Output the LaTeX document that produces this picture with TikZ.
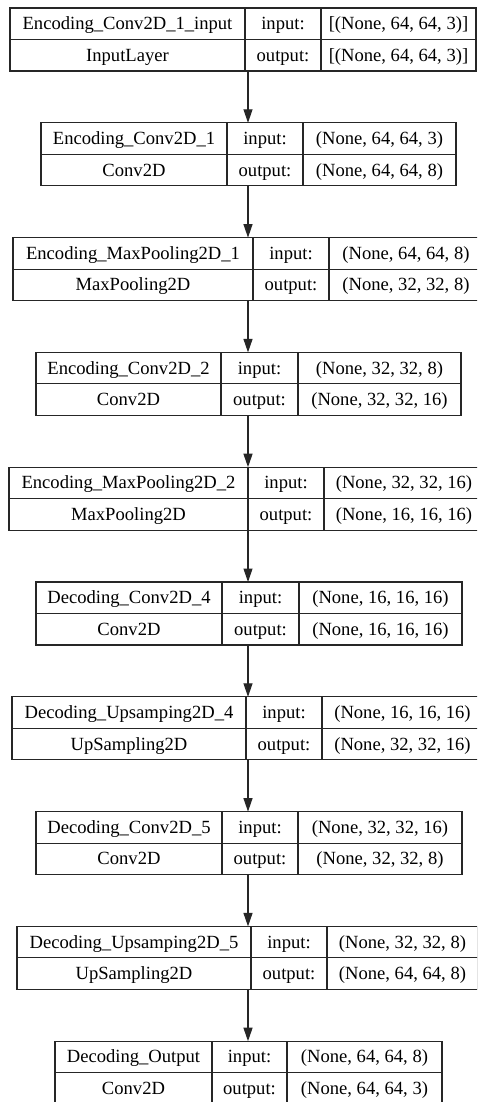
\documentclass[tikz,border=0pt]{standalone}
\usepackage{fontspec}
\setmainfont{Liberation Serif}
\usetikzlibrary{arrows.meta}

\colorlet{ink}{black!85}
\tikzset{
  frame/.style={draw=ink, line width=1.15pt, inner sep=0pt, outer sep=0pt, minimum height=63pt},
  rule/.style={draw=ink, line width=1.15pt},
  cell/.style={inner sep=0pt, outer sep=0pt, text height=12pt, text depth=0pt,
    font=\fontsize{18.6pt}{22pt}\selectfont},
  link/.style={draw=ink, line width=1.15pt, -{Triangle[length=13.5pt,width=9pt]}},
}

% One layer record: name, left, right, top, first divider, second divider,
% layer name, layer class, input shape; the output shape follows as a 10th group.
\newcommand\nnlayer[9]{%
  \pgfmathsetmacro\lyW{#3-#2}%
  \pgfmathsetmacro\lyX{(#2+#3)/2}%
  \pgfmathsetmacro\lyY{#4+31.5}%
  \pgfmathsetmacro\lyB{#4+63}%
  \pgfmathsetmacro\lyR{#4+15.75}%
  \pgfmathsetmacro\lyS{#4+47.25}%
  \pgfmathsetmacro\lyA{(#2+#5)/2}%
  \pgfmathsetmacro\lyM{(#5+#6)/2}%
  \pgfmathsetmacro\lyC{(#6+#3)/2}%
  \node[frame, minimum width=\lyW pt] (#1) at (\lyX,\lyY) {};
  \draw[rule] (#1.west) -- (#1.east);
  \draw[rule] (#5,#4) -- (#5,\lyB);
  \draw[rule] (#6,#4) -- (#6,\lyB);
  \node[cell] (#1-name) at (\lyA,\lyR) {#7};
  \node[cell] (#1-class) at (\lyA,\lyS) {#8};
  \node[cell] (#1-inlbl) at (\lyM,\lyR) {input:};
  \node[cell] (#1-outlbl) at (\lyM,\lyS) {output:};
  \node[cell] (#1-in) at (\lyC,\lyR) {#9};
  \def\lyName{#1}%
  \nnlayerout}
\newcommand\nnlayerout[1]{\node[cell] (\lyName-out) at (\lyC,\lyS) {#1};}

\begin{document}
\begin{tikzpicture}[x=1pt, y=-1pt]
  \useasboundingbox (0,0) rectangle (477,1102);
  \clip (0,0) rectangle (477,1102);
  \fill[white] (0,0) rectangle (477,1102);

  \nnlayer{L1}{10}{476}{8}{245}{321}{Encoding\_Conv2D\_1\_input}{InputLayer}{[(None, 64, 64, 3)]}{[(None, 64, 64, 3)]}
  \nnlayer{L2}{41}{456}{122.8}{227}{303}{Encoding\_Conv2D\_1}{Conv2D}{(None, 64, 64, 3)}{(None, 64, 64, 8)}
  \nnlayer{L3}{13}{483}{237.6}{253}{329}{Encoding\_MaxPooling2D\_1}{MaxPooling2D}{(None, 64, 64, 8)}{(None, 32, 32, 8)}
  \nnlayer{L4}{36}{461}{352.4}{221}{298}{Encoding\_Conv2D\_2}{Conv2D}{(None, 32, 32, 8)}{(None, 32, 32, 16)}
  \nnlayer{L5}{9}{484}{467.2}{248}{324}{Encoding\_MaxPooling2D\_2}{MaxPooling2D}{(None, 32, 32, 16)}{(None, 16, 16, 16)}
  \nnlayer{L6}{36}{462}{582}{222}{299}{Decoding\_Conv2D\_4}{Conv2D}{(None, 16, 16, 16)}{(None, 16, 16, 16)}
  \nnlayer{L7}{12}{483}{696.8}{246}{322}{Decoding\_Upsamping2D\_4}{UpSampling2D}{(None, 16, 16, 16)}{(None, 32, 32, 16)}
  \nnlayer{L8}{36}{462}{811.6}{222}{298}{Decoding\_Conv2D\_5}{Conv2D}{(None, 32, 32, 16)}{(None, 32, 32, 8)}
  \nnlayer{L9}{17}{478}{926.4}{251}{327}{Decoding\_Upsamping2D\_5}{UpSampling2D}{(None, 32, 32, 8)}{(None, 64, 64, 8)}
  \nnlayer{L10}{55}{442}{1041.2}{212}{287}{Decoding\_Output}{Conv2D}{(None, 64, 64, 8)}{(None, 64, 64, 3)}

  % vertical data-flow axis
  \coordinate (flow) at (248,0);
  \foreach \a/\b in {L1/L2, L2/L3, L3/L4, L4/L5, L5/L6, L6/L7, L7/L8, L8/L9, L9/L10}
    \draw[link] (\a.south -| flow) -- (\b.north -| flow);
\end{tikzpicture}
\end{document}
